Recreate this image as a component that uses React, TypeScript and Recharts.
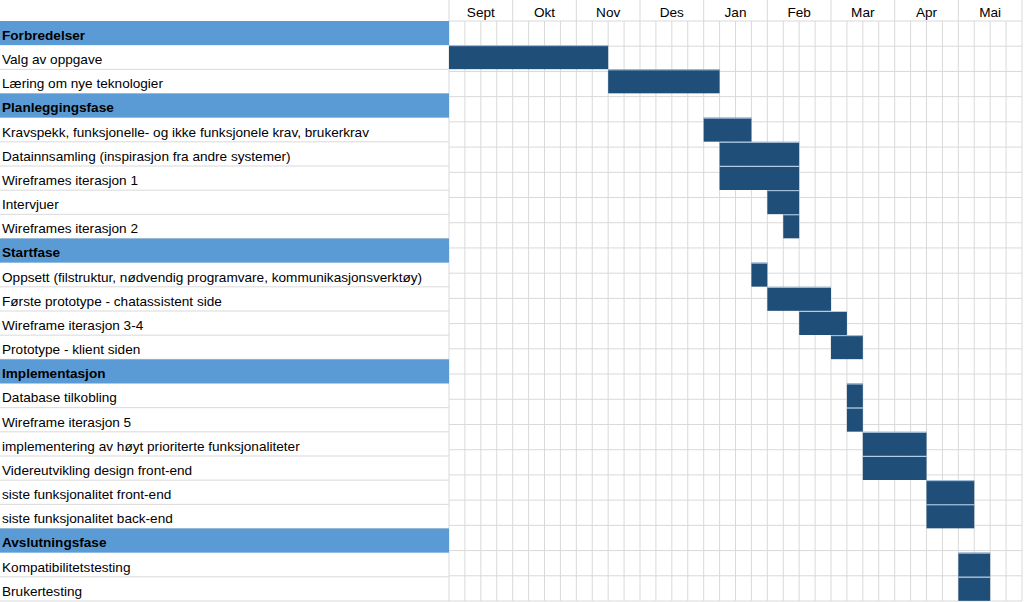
import React from 'react';
import { BarChart, Bar, XAxis, YAxis, CartesianGrid } from 'recharts';

const monthLabels = ['Sept', 'Okt', 'Nov', 'Des', 'Jan', 'Feb', 'Mar', 'Apr', 'Mai'];

const taskNames = [
  'Forbredelser',
  'Valg av oppgave',
  'Læring om nye teknologier',
  'Planleggingsfase',
  'Kravspekk, funksjonelle- og ikke funksjonele krav, brukerkrav',
  'Datainnsamling (inspirasjon fra andre systemer)',
  'Wireframes iterasjon 1',
  'Intervjuer',
  'Wireframes iterasjon 2',
  'Startfase',
  'Oppsett (filstruktur, nødvendig programvare, kommunikasjonsverktøy)',
  'Første prototype - chatassistent side',
  'Wireframe iterasjon 3-4',
  'Prototype - klient siden',
  'Implementasjon',
  'Database tilkobling',
  'Wireframe iterasjon 5',
  'implementering av høyt prioriterte funksjonaliteter',
  'Videreutvikling design front-end',
  'siste funksjonalitet front-end',
  'siste funksjonalitet back-end',
  'Avslutningsfase',
  'Kompatibilitetstesting',
  'Brukertesting',
];

const phaseNames = ['Forbredelser', 'Planleggingsfase', 'Startfase', 'Implementasjon', 'Avslutningsfase'];

// start / end in week columns (4 per month, 0 = start of Sept)
const startWeek = [0, 0, 10, 0, 16, 17, 17, 20, 21, 0, 19, 20, 22, 24, 0, 25, 25, 26, 26, 30, 30, 0, 32, 32];
const endWeek = [0, 10, 17, 0, 19, 22, 22, 22, 22, 0, 20, 24, 25, 26, 0, 26, 26, 30, 30, 33, 33, 0, 34, 34];

const TOTAL_WEEKS = 36;

const data = taskNames.map((name, i) => ({
  name,
  start: startWeek[i],
  dur: endWeek[i] - startWeek[i],
}));

const W = 1024;
const H = 602;
const LABEL_W = 449;
const HEADER_H = 21;
const MARGIN_R = 2;
const MARGIN_B = 1;
const PLOT_W = W - LABEL_W - MARGIN_R;
const PLOT_H = H - HEADER_H - MARGIN_B;
const ROW_H = PLOT_H / taskNames.length;
const MONTH_W = PLOT_W / monthLabels.length;

const GRID = '#D9D9D9';
const PHASE_BLUE = '#5B9BD5';
const BAR_BLUE = '#1F4E79';
const FONT = '"Liberation Sans", Arial, sans-serif';
const FONT_SIZE = 13.6;

const monthCenters = monthLabels.map((_, i) => i * 4 + 2);
const colValues = Array.from({ length: TOTAL_WEEKS + 1 }, (_, i) => i);
const rowValues = Array.from({ length: taskNames.length + 1 }, (_, i) => i);

const XTick = (props: any) => {
  const { x, index } = props;
  const left = x - MONTH_W / 2;
  return (
    <g>
      <line x1={left} x2={left} y1={0} y2={HEADER_H} stroke={GRID} />
      {index === monthLabels.length - 1 && (
        <line x1={left + MONTH_W} x2={left + MONTH_W} y1={0} y2={HEADER_H} stroke={GRID} />
      )}
      <text x={x} y={HEADER_H / 2 + 1.5} dy="0.35em" textAnchor="middle" fontSize={FONT_SIZE} fontFamily={FONT} fill="#000">
        {monthLabels[index]}
      </text>
    </g>
  );
};

const YTick = (props: any) => {
  const { y, payload } = props;
  const name = payload.value as string;
  const isPhase = phaseNames.includes(name);
  return (
    <g>
      {isPhase && <rect x={0} y={y - ROW_H / 2} width={LABEL_W} height={ROW_H} fill={PHASE_BLUE} />}
      {!isPhase && (
        <line x1={0} x2={LABEL_W} y1={y + ROW_H / 2} y2={y + ROW_H / 2} stroke={GRID} />
      )}
      <text
        x={2}
        y={y + 2}
        dy="0.35em"
        textAnchor="start"
        fontSize={FONT_SIZE}
        fontFamily={FONT}
        fontWeight={isPhase ? 'bold' : 'normal'}
        fill="#000"
      >
        {name}
      </text>
    </g>
  );
};

const TaskBar = (props: any) => {
  const { x, y, width, height } = props;
  if (!width || width <= 0) return null;
  return (
    <g>
      <rect x={x} y={y} width={width} height={height} fill={BAR_BLUE} />
      <line x1={x} x2={x + width} y1={y + 0.5} y2={y + 0.5} stroke="#B4CDE6" strokeWidth={1} />
    </g>
  );
};

export default function App() {
  return (
    <div style={{ position: 'absolute', left: 0, top: 0, width: W, height: H, background: '#fff' }}>
      <BarChart
        width={W}
        height={H}
        data={data}
        layout="vertical"
        margin={{ top: 0, right: MARGIN_R, left: 0, bottom: MARGIN_B }}
        barCategoryGap={0}
        barGap={0}
      >
        <CartesianGrid xAxisId="cols" yAxisId="grid" stroke={GRID} strokeWidth={1} />
        <XAxis
          type="number"
          domain={[0, TOTAL_WEEKS]}
          ticks={monthCenters}
          orientation="top"
          height={HEADER_H}
          axisLine={false}
          tickLine={false}
          interval={0}
          tick={<XTick />}
          allowDataOverflow
        />
        <XAxis
          xAxisId="cols"
          type="number"
          domain={[0, TOTAL_WEEKS]}
          ticks={colValues}
          interval={0}
          hide
          allowDataOverflow
        />
        <YAxis
          type="category"
          dataKey="name"
          width={LABEL_W}
          axisLine={false}
          tickLine={false}
          interval={0}
          tick={<YTick />}
        />
        <YAxis
          yAxisId="grid"
          type="number"
          domain={[0, taskNames.length]}
          ticks={rowValues}
          interval={0}
          hide
          allowDataOverflow
        />
        <Bar dataKey="start" stackId="a" fill="transparent" isAnimationActive={false} />
        <Bar dataKey="dur" stackId="a" shape={<TaskBar />} isAnimationActive={false} />
      </BarChart>
    </div>
  );
}
